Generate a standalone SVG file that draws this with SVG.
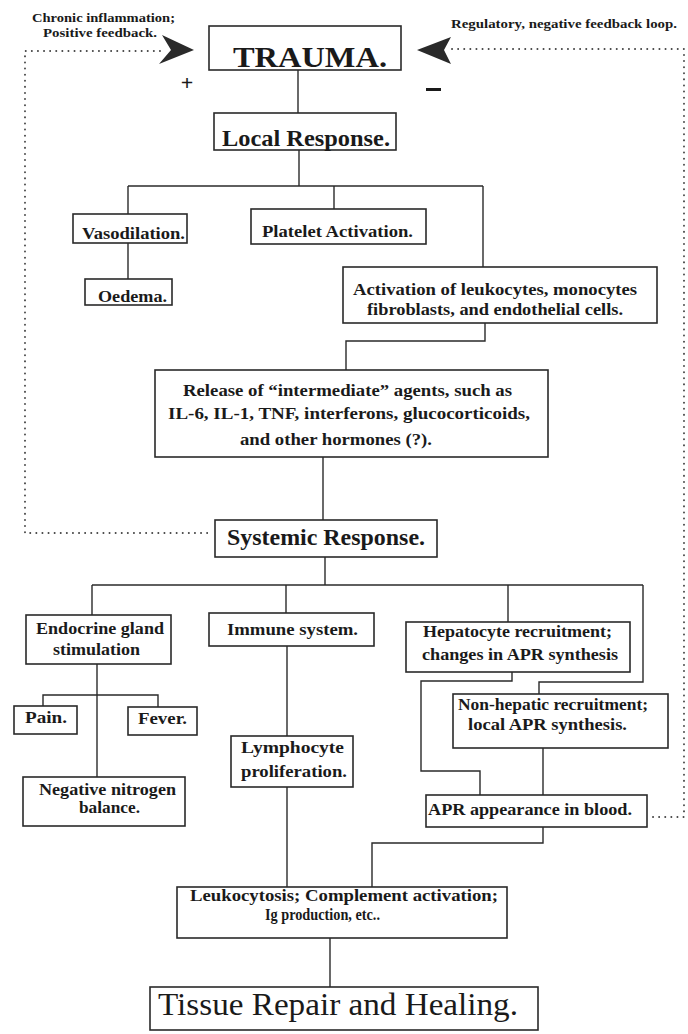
<svg xmlns="http://www.w3.org/2000/svg" width="688" height="1034" viewBox="0 0 688 1034">
<style>
.box{fill:#fff;stroke:#2a2a2a;stroke-width:1.6}
.ln{fill:none;stroke:#2a2a2a;stroke-width:1.4}
.dot{fill:none;stroke:#444;stroke-width:1.9;stroke-linecap:round;stroke-dasharray:0.1 6}
.t{font-family:"Liberation Serif","Times New Roman",serif;fill:#1a1a1a;font-weight:bold;font-size:16px}
.big{font-family:"Liberation Serif","Times New Roman",serif;fill:#1a1a1a}
.lab{font-family:"Liberation Serif","Times New Roman",serif;fill:#1a1a1a;font-weight:bold;font-size:12px}
.arr{fill:#2a2a2a}
</style>
<rect width="688" height="1034" fill="#fff"/>
<g id="connectors">
<polyline class="ln" points="298,70 298,113"/>
<polyline class="ln" points="299,150 299,186"/>
<polyline class="ln" points="128,186 483,186"/>
<polyline class="ln" points="128,186 128,214"/>
<polyline class="ln" points="334,186 334,209"/>
<polyline class="ln" points="483,186 483,267"/>
<polyline class="ln" points="128,243 128,279"/>
<polyline class="ln" points="485,323 485,341 346,341 346,370"/>
<polyline class="ln" points="323,457 323,520"/>
<polyline class="ln" points="325,557 325,585"/>
<polyline class="ln" points="92,585 643,585"/>
<polyline class="ln" points="92,585 92,615"/>
<polyline class="ln" points="286,585 286,613"/>
<polyline class="ln" points="508,585 508,622"/>
<polyline class="ln" points="643,585 643,682 539,682 539,694"/>
<polyline class="ln" points="97,664 97,777"/>
<polyline class="ln" points="43,706 43,695 158,695 158,707"/>
<polyline class="ln" points="287,646 287,736"/>
<polyline class="ln" points="287,787 287,887"/>
<polyline class="ln" points="512,672 512,681 421,681 421,771 480,771 480,795"/>
<polyline class="ln" points="543,748 543,795"/>
<polyline class="ln" points="543,827 543,843 372,843 372,887"/>
<polyline class="ln" points="330,938 330,987"/>
<polyline class="dot" points="160,51 25,51 25,533 213,533"/>
<polyline class="dot" points="452,49 684,49 684,817 652,817"/>
<path class="arr" d="M194,50 L162,35 L171,50 L159,64 Z"/>
<path class="arr" d="M417,50 L451,37 L444,50 L451,64 Z"/>
</g>
<g id="labels">
<text class="lab" x="32" y="22" textLength="143" lengthAdjust="spacingAndGlyphs">Chronic inflammation;</text>
<text class="lab" x="43" y="37" textLength="114" lengthAdjust="spacingAndGlyphs">Positive feedback.</text>
<text class="lab" x="451" y="28" textLength="226" lengthAdjust="spacingAndGlyphs">Regulatory, negative feedback loop.</text>
<text class="t" x="187" y="90" text-anchor="middle" style="font-size:22px">+</text>
<rect x="426" y="88" width="15" height="3" fill="#1a1a1a"/>
</g>
<g id="trauma">
<rect class="box" x="209" y="26" width="192" height="44"/>
<text class="big" x="233" y="67" style="font-size:30px;font-weight:bold" textLength="154" lengthAdjust="spacingAndGlyphs">TRAUMA.</text>
</g>
<g id="local-response">
<rect class="box" x="214" y="113" width="182" height="37"/>
<text class="big" x="222" y="146" style="font-size:24px;font-weight:bold" textLength="168" lengthAdjust="spacingAndGlyphs">Local Response.</text>
</g>
<g id="vasodilation">
<rect class="box" x="73" y="214" width="114" height="29"/>
<text class="t" x="82" y="239" textLength="103" lengthAdjust="spacingAndGlyphs">Vasodilation.</text>
</g>
<g id="oedema">
<rect class="box" x="85" y="279" width="87" height="26"/>
<text class="t" x="98" y="302" textLength="69" lengthAdjust="spacingAndGlyphs">Oedema.</text>
</g>
<g id="platelet">
<rect class="box" x="251" y="209" width="175" height="35"/>
<text class="t" x="262" y="237" textLength="151" lengthAdjust="spacingAndGlyphs">Platelet Activation.</text>
</g>
<g id="activation">
<rect class="box" x="343" y="267" width="314" height="56"/>
<text class="t" x="353" y="295" textLength="284" lengthAdjust="spacingAndGlyphs">Activation of leukocytes, monocytes</text>
<text class="t" x="367" y="315" textLength="256" lengthAdjust="spacingAndGlyphs">fibroblasts, and endothelial cells.</text>
</g>
<g id="release">
<rect class="box" x="155" y="370" width="393" height="87"/>
<text class="t" x="183" y="396" textLength="329" lengthAdjust="spacingAndGlyphs">Release of “intermediate” agents, such as</text>
<text class="t" x="168" y="419" textLength="362" lengthAdjust="spacingAndGlyphs">IL-6, IL-1, TNF, interferons, glucocorticoids,</text>
<text class="t" x="240" y="445" textLength="192" lengthAdjust="spacingAndGlyphs">and other hormones (?).</text>
</g>
<g id="systemic-response">
<rect class="box" x="215" y="520" width="222" height="37"/>
<text class="big" x="227" y="545" style="font-size:24px;font-weight:bold" textLength="198" lengthAdjust="spacingAndGlyphs">Systemic Response.</text>
</g>
<g id="endocrine">
<rect class="box" x="26" y="615" width="145" height="49"/>
<text class="t" x="36" y="634" textLength="128" lengthAdjust="spacingAndGlyphs">Endocrine gland</text>
<text class="t" x="53" y="655" textLength="87" lengthAdjust="spacingAndGlyphs">stimulation</text>
</g>
<g id="immune">
<rect class="box" x="209" y="613" width="165" height="33"/>
<text class="t" x="227" y="635" textLength="131" lengthAdjust="spacingAndGlyphs">Immune system.</text>
</g>
<g id="hepatocyte">
<rect class="box" x="406" y="622" width="224" height="50"/>
<text class="t" x="423" y="637" textLength="189" lengthAdjust="spacingAndGlyphs">Hepatocyte recruitment;</text>
<text class="t" x="422" y="660" textLength="196" lengthAdjust="spacingAndGlyphs">changes in APR synthesis</text>
</g>
<g id="pain">
<rect class="box" x="14" y="706" width="63" height="28"/>
<text class="t" x="25" y="723" textLength="42" lengthAdjust="spacingAndGlyphs">Pain.</text>
</g>
<g id="fever">
<rect class="box" x="128" y="707" width="69" height="28"/>
<text class="t" x="138" y="724" textLength="49" lengthAdjust="spacingAndGlyphs">Fever.</text>
</g>
<g id="non-hepatic">
<rect class="box" x="453" y="694" width="215" height="54"/>
<text class="t" x="458" y="710" textLength="190" lengthAdjust="spacingAndGlyphs">Non-hepatic recruitment;</text>
<text class="t" x="468" y="730" textLength="159" lengthAdjust="spacingAndGlyphs">local APR synthesis.</text>
</g>
<g id="lymphocyte">
<rect class="box" x="231" y="736" width="122" height="51"/>
<text class="t" x="241" y="753" textLength="103" lengthAdjust="spacingAndGlyphs">Lymphocyte</text>
<text class="t" x="241" y="777" textLength="106" lengthAdjust="spacingAndGlyphs">proliferation.</text>
</g>
<g id="negative-nitrogen">
<rect class="box" x="23" y="777" width="162" height="49"/>
<text class="t" x="39" y="795" textLength="137" lengthAdjust="spacingAndGlyphs">Negative nitrogen</text>
<text class="t" x="79" y="813" textLength="61" lengthAdjust="spacingAndGlyphs">balance.</text>
</g>
<g id="apr-blood">
<rect class="box" x="426" y="795" width="221" height="32"/>
<text class="t" x="428" y="815" textLength="204" lengthAdjust="spacingAndGlyphs">APR appearance in blood.</text>
</g>
<g id="leukocytosis">
<rect class="box" x="177" y="887" width="330" height="51"/>
<text class="t" x="190" y="901" textLength="308" lengthAdjust="spacingAndGlyphs">Leukocytosis; Complement activation;</text>
<text class="t" x="265" y="920" textLength="115" lengthAdjust="spacingAndGlyphs">Ig production, etc..</text>
</g>
<g id="tissue-repair">
<rect class="box" x="150" y="987" width="388" height="43"/>
<text class="big" x="158" y="1015" style="font-size:32px" textLength="360" lengthAdjust="spacingAndGlyphs">Tissue Repair and Healing.</text>
</g>
</svg>
